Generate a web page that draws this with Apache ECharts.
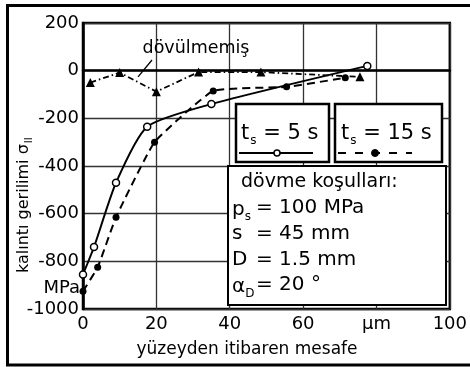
<!DOCTYPE html>
<html>
<head>
<meta charset="utf-8">
<script src="https://cdn.jsdelivr.net/npm/echarts@6/dist/echarts.min.js"></script>
<style>
  html, body { margin: 0; padding: 0; background: #fff; }
  #chart { width: 470px; height: 367px; }
</style>
</head>
<body>
<div id="chart"></div>
<script>
// Residual stress profiles below the surface (distance in µm, stress in MPa)
const xTickLabels = ['0', '20', '40', '60', 'μm', '100'];
const yTickValues = [-1000, -800, -600, -400, -200, 0, 200];

const dist5s = [0, 3, 9, 17.5, 35, 77.5];
const stress5s = [-855, -740, -470, -235, -140, 20];

const dist15s = [0, 4, 9, 19.5, 35.5, 55.5, 71.5];
const stress15s = [-925, -825, -615, -300, -85, -68, -30];

const distUnpeened = [2, 10, 20, 31.5, 48.5, 75.5];
const stressUnpeened = [-50, -8, -88, -6, -6, -26];

const FONT = 'DejaVu Sans';
const INK = '#000';

function pairs(xs, ys) { return xs.map((x, i) => [x, ys[i]]); }

const chart = echarts.init(document.getElementById('chart'), null, { renderer: 'canvas' });

const textStyle = (size) => ({ fontFamily: FONT, fontSize: size, fill: INK });

const option = {
  animation: false,
  backgroundColor: '#fff',
  grid: {
    left: 83, right: 17, top: 23, bottom: 58,
    show: true, borderColor: '#000', borderWidth: 2.5, backgroundColor: 'transparent'
  },
  xAxis: {
    type: 'value', min: 0, max: 100, interval: 20,
    axisLine: { show: true, lineStyle: { color: '#000', width: 2.5 } },
    axisTick: { show: false },
    splitLine: { show: true, lineStyle: { color: '#333', width: 1.3 } },
    axisLabel: {
      margin: 6, fontFamily: FONT, fontSize: 18, color: INK,
      formatter: (v) => xTickLabels[Math.round(v / 20)]
    }
  },
  yAxis: {
    type: 'value', min: -1000, max: 200, interval: 200,
    axisLine: { show: true, lineStyle: { color: '#000', width: 2.5 } },
    axisTick: { show: false },
    splitLine: { show: true, lineStyle: { color: '#333', width: 1.3 } },
    axisLabel: {
      margin: 4, fontFamily: FONT, fontSize: 18, color: INK,
      formatter: (v) => (yTickValues.indexOf(v) >= 0 ? String(v) : '')
    }
  },
  series: [
    {
      name: 'dövülmemiş', type: 'line', data: pairs(distUnpeened, stressUnpeened),
      symbol: 'triangle', symbolSize: 9,
      itemStyle: { color: '#000' },
      lineStyle: { color: '#000', width: 1.8, type: [6, 3, 1.5, 3] },
      z: 3
    },
    {
      name: 't_s = 15 s', type: 'line', data: pairs(dist15s, stress15s),
      smooth: 0.12,
      symbol: 'circle', symbolSize: 7,
      itemStyle: { color: '#000' },
      lineStyle: { color: '#000', width: 2, type: [8, 5] },
      z: 4
    },
    {
      name: 't_s = 5 s', type: 'line', data: pairs(dist5s, stress5s),
      smooth: 0.2,
      symbol: 'circle', symbolSize: 7,
      itemStyle: { color: '#fff', borderColor: '#000', borderWidth: 1.5 },
      lineStyle: { color: '#000', width: 2 },
      z: 5
    }
  ]
};
chart.setOption(option);

// Annotations, legend boxes and the test-condition panel
const leaderEnd = chart.convertToPixel({ gridIndex: 0 }, [15, -26]);

const subRich = {
  m: { fontFamily: FONT, fontSize: 20, fill: INK, lineHeight: 24, verticalAlign: 'bottom' },
  s: { fontFamily: FONT, fontSize: 12, fill: INK, lineHeight: 24, verticalAlign: 'bottom', padding: [0, 0, -3, 0] },
  L: { fontFamily: FONT, fontSize: 21, fill: INK, lineHeight: 26, verticalAlign: 'bottom' },
  Ls: { fontFamily: FONT, fontSize: 12, fill: INK, lineHeight: 26, verticalAlign: 'bottom', padding: [0, 0, -3, 1] },
  y: { fontFamily: FONT, fontSize: 16, fill: INK, lineHeight: 20, verticalAlign: 'bottom' },
  ys: { fontFamily: FONT, fontSize: 10, fill: INK, lineHeight: 20, verticalAlign: 'bottom', padding: [0, 0, -2, 1] }
};

chart.setOption({
  graphic: [
    // outer frame
    { type: 'rect', shape: { x: 7.5, y: 5.5, width: 480, height: 359.5 },
      style: { fill: 'none', stroke: '#000', lineWidth: 3 }, z: 200, silent: true },

    // y-axis title
    { type: 'text', x: 22, y: 273, rotation: Math.PI / 2, z: 100,
      style: { text: '{y|kalıntı gerilimi σ}{ys|II}', rich: subRich, textAlign: 'left', textVerticalAlign: 'middle' } },
    // x-axis title
    { type: 'text', x: 247, y: 350, z: 100,
      style: Object.assign(textStyle(17), { text: 'yüzeyden itibaren mesafe', textAlign: 'center', textVerticalAlign: 'middle' }) },
    // unit on the stress axis
    { type: 'text', x: 80, y: 288, z: 100,
      style: Object.assign(textStyle(18), { text: 'MPa', textAlign: 'right', textVerticalAlign: 'middle' }) },

    // "dövülmemiş" label with pointer
    { type: 'text', x: 196, y: 48, z: 100,
      style: Object.assign(textStyle(17.5), { text: 'dövülmemiş', textAlign: 'center', textVerticalAlign: 'middle' }) },
    { type: 'line', z: 100, shape: { x1: 152, y1: 60, x2: leaderEnd[0], y2: leaderEnd[1] },
      style: { stroke: '#000', lineWidth: 1.3 } },

    // legend box: 5 s
    { type: 'rect', z: 100, shape: { x: 236, y: 104, width: 93, height: 58 },
      style: { fill: '#fff', stroke: '#000', lineWidth: 2.5 } },
    { type: 'text', z: 101, x: 241, y: 131,
      style: { text: '{L|t}{Ls|s}{L| = 5 s}', rich: subRich, textAlign: 'left', textVerticalAlign: 'middle' } },
    { type: 'line', z: 101, shape: { x1: 239, y1: 153, x2: 313, y2: 153 },
      style: { stroke: '#000', lineWidth: 2 } },
    { type: 'circle', z: 102, shape: { cx: 277, cy: 153, r: 3 },
      style: { fill: '#fff', stroke: '#000', lineWidth: 1.5 } },

    // legend box: 15 s
    { type: 'rect', z: 100, shape: { x: 335, y: 104, width: 107, height: 58 },
      style: { fill: '#fff', stroke: '#000', lineWidth: 2.5 } },
    { type: 'text', z: 101, x: 341, y: 131,
      style: { text: '{L|t}{Ls|s}{L| = 15 s}', rich: subRich, textAlign: 'left', textVerticalAlign: 'middle' } },
    { type: 'line', z: 101, shape: { x1: 338, y1: 153, x2: 412, y2: 153 },
      style: { stroke: '#000', lineWidth: 2, lineDash: [8, 9] } },
    { type: 'circle', z: 102, shape: { cx: 375, cy: 153, r: 3.5 },
      style: { fill: '#000', stroke: '#000', lineWidth: 1 } },

    // test-condition panel
    { type: 'rect', z: 100, shape: { x: 228, y: 166, width: 218, height: 139 },
      style: { fill: '#fff', stroke: '#000', lineWidth: 2 } },
    { type: 'text', z: 101, x: 241, y: 182,
      style: Object.assign(textStyle(19), { text: 'dövme koşulları:', textAlign: 'left', textVerticalAlign: 'middle' }) },
    { type: 'text', z: 101, x: 232, y: 208,
      style: { text: '{m|p}{s|s}', rich: subRich, textAlign: 'left', textVerticalAlign: 'middle' } },
    { type: 'text', z: 101, x: 256, y: 208,
      style: Object.assign(textStyle(20), { text: '= 100 MPa', textAlign: 'left', textVerticalAlign: 'middle' }) },
    { type: 'text', z: 101, x: 232, y: 234,
      style: Object.assign(textStyle(20), { text: 's', textAlign: 'left', textVerticalAlign: 'middle' }) },
    { type: 'text', z: 101, x: 256, y: 234,
      style: Object.assign(textStyle(20), { text: '= 45 mm', textAlign: 'left', textVerticalAlign: 'middle' }) },
    { type: 'text', z: 101, x: 232, y: 260,
      style: Object.assign(textStyle(20), { text: 'D', textAlign: 'left', textVerticalAlign: 'middle' }) },
    { type: 'text', z: 101, x: 256, y: 260,
      style: Object.assign(textStyle(20), { text: '= 1.5 mm', textAlign: 'left', textVerticalAlign: 'middle' }) },
    { type: 'text', z: 101, x: 232, y: 285,
      style: { text: '{m|α}{s|D}', rich: subRich, textAlign: 'left', textVerticalAlign: 'middle' } },
    { type: 'text', z: 101, x: 256, y: 285,
      style: Object.assign(textStyle(20), { text: '= 20 °', textAlign: 'left', textVerticalAlign: 'middle' }) }
  ]
});
</script>
</body>
</html>
